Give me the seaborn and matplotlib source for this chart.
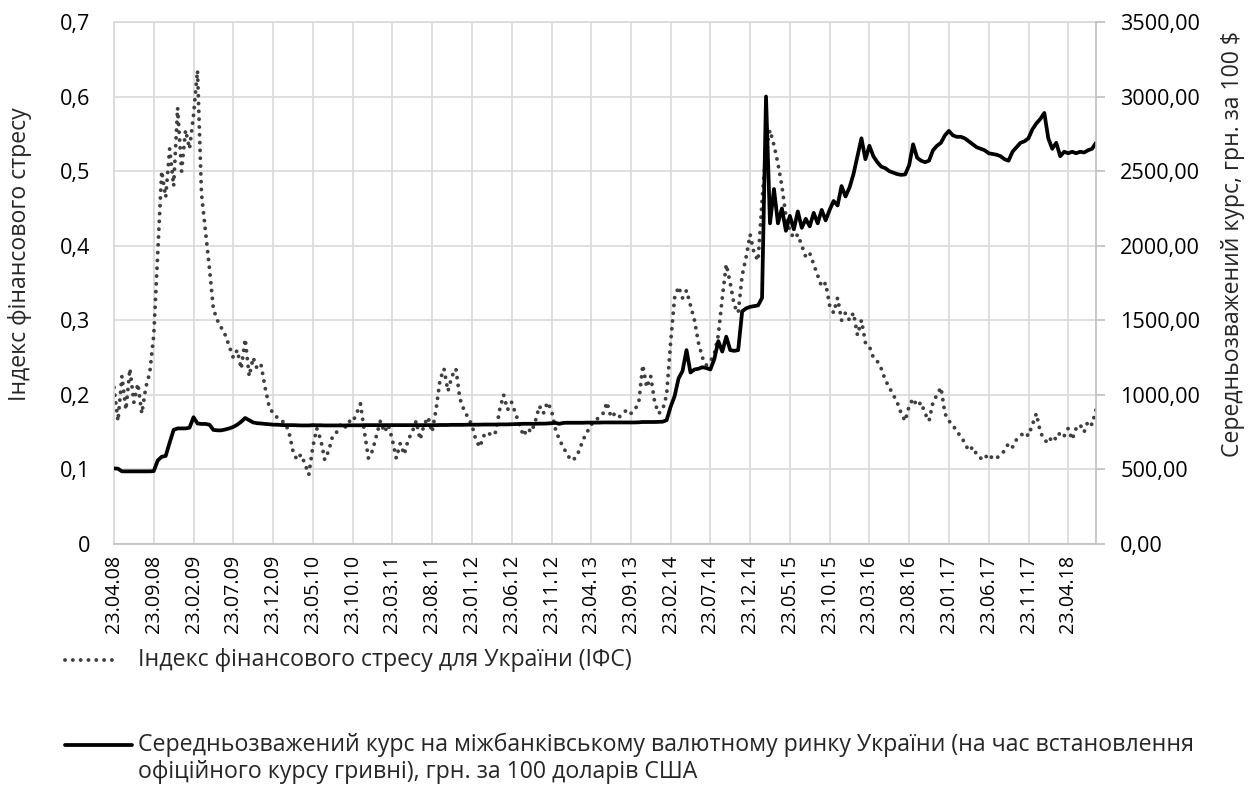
import numpy as np
import pandas as pd
import matplotlib
matplotlib.use("Agg")
import matplotlib.pyplot as plt
from matplotlib.lines import Line2D
from matplotlib.ticker import FuncFormatter, MultipleLocator
import matplotlib.dates as mdates
import seaborn as sns

sns.set_style("white")
plt.rcParams["font.family"] = ["Open Sans", "DejaVu Sans"]

# ---- data (half-monthly readings, 23.04.2008 .. early 08.2018) ----
start_date = "2008-04-23"
end_date = "2018-08-07"

ifs = [
    0.21, 0.165, 0.225, 0.18, 0.235, 0.19, 0.215, 0.175, 0.21, 0.23,
    0.28, 0.39, 0.50, 0.465, 0.53, 0.48, 0.585, 0.50, 0.555, 0.53,
    0.575, 0.635, 0.47, 0.42, 0.37, 0.315, 0.30, 0.29, 0.28, 0.265,
    0.25, 0.26, 0.235, 0.275, 0.225, 0.25, 0.235, 0.24, 0.21, 0.185,
    0.175, 0.17, 0.165, 0.163, 0.15, 0.125, 0.113, 0.12, 0.108, 0.093,
    0.13, 0.155, 0.14, 0.113, 0.125, 0.145, 0.15, 0.16, 0.155, 0.165,
    0.163, 0.175, 0.188, 0.15, 0.115, 0.125, 0.145, 0.165, 0.15, 0.16,
    0.14, 0.115, 0.135, 0.12, 0.14, 0.15, 0.165, 0.14, 0.16, 0.17,
    0.15, 0.18, 0.22, 0.235, 0.205, 0.225, 0.235, 0.195, 0.18, 0.17,
    0.16, 0.14, 0.13, 0.145, 0.15, 0.145, 0.15, 0.18, 0.20, 0.18,
    0.19, 0.175, 0.16, 0.145, 0.155, 0.15, 0.165, 0.185, 0.175, 0.19,
    0.18, 0.155, 0.14, 0.13, 0.12, 0.112, 0.115, 0.125, 0.14, 0.15,
    0.16, 0.165, 0.17, 0.175, 0.19, 0.17, 0.175, 0.17, 0.175, 0.18,
    0.175, 0.18, 0.19, 0.24, 0.21, 0.225, 0.19, 0.175, 0.18, 0.20,
    0.27, 0.33, 0.345, 0.33, 0.34, 0.32, 0.30, 0.27, 0.25, 0.24,
    0.245, 0.255, 0.28, 0.33, 0.375, 0.35, 0.32, 0.31, 0.36, 0.385,
    0.415, 0.39, 0.38, 0.46, 0.53, 0.555, 0.535, 0.51, 0.48, 0.44,
    0.42, 0.41, 0.415, 0.40, 0.385, 0.39, 0.375, 0.36, 0.345, 0.35,
    0.32, 0.31, 0.33, 0.30, 0.31, 0.30, 0.31, 0.28, 0.30, 0.27,
    0.265, 0.25, 0.245, 0.235, 0.22, 0.21, 0.20, 0.19, 0.175, 0.165,
    0.185, 0.195, 0.185, 0.19, 0.175, 0.165, 0.19, 0.20, 0.21, 0.175,
    0.165, 0.16, 0.15, 0.145, 0.135, 0.125, 0.13, 0.12, 0.115, 0.12,
    0.113, 0.118, 0.115, 0.12, 0.125, 0.135, 0.13, 0.14, 0.145, 0.15,
    0.145, 0.16, 0.175, 0.15, 0.14, 0.135, 0.145, 0.14, 0.15, 0.145,
    0.155, 0.14, 0.155, 0.16, 0.15, 0.165, 0.16, 0.18,
]

rate = [
    507, 505, 487, 487, 487, 487, 487, 487, 487, 487,
    489, 560, 585, 590, 680, 765, 775, 775, 775, 780,
    850, 808, 805, 805, 800, 765, 762, 762, 768, 775,
    785, 800, 820, 845, 830, 815, 810, 808, 805, 803,
    800, 800, 798, 797, 797, 797, 796, 795, 795, 795,
    797, 796, 796, 795, 795, 795, 795, 795, 795, 796,
    796, 796, 796, 797, 797, 797, 797, 797, 797, 797,
    797, 797, 797, 797, 797, 797, 797, 797, 797, 797,
    797, 797, 798, 798, 798, 799, 799, 799, 799, 800,
    800, 800, 800, 801, 801, 801, 801, 802, 802, 802,
    803, 804, 805, 806, 806, 806, 806, 807, 807, 808,
    810, 812, 806, 812, 813, 813, 813, 813, 813, 814,
    814, 814, 814, 815, 815, 815, 815, 815, 815, 815,
    815, 815, 816, 818, 818, 818, 818, 819, 820, 830,
    920, 990, 1110, 1160, 1300, 1150, 1170, 1175, 1185, 1180,
    1170, 1240, 1360, 1290, 1390, 1300, 1295, 1300, 1560, 1580,
    1590, 1595, 1600, 1650, 3000, 2150, 2380, 2150, 2250, 2100,
    2200, 2110, 2230, 2120, 2180, 2130, 2220, 2150, 2240, 2170,
    2240, 2300, 2270, 2400, 2330, 2390, 2480, 2600, 2720, 2580,
    2670, 2600, 2560, 2530, 2520, 2500, 2490, 2480, 2475, 2478,
    2540, 2680, 2590, 2570, 2560, 2570, 2640, 2670, 2690, 2740,
    2770, 2740, 2730, 2730, 2720, 2700, 2680, 2660, 2650, 2640,
    2620, 2615, 2610, 2600, 2580, 2570, 2630, 2660, 2690, 2700,
    2720, 2780, 2820, 2850, 2890, 2720, 2650, 2690, 2600, 2630,
    2620, 2630, 2620, 2630, 2625, 2640, 2650, 2690,
]

label_ifs = "Індекс фінансового стресу для України (ІФС)"
label_rate_1 = "Середньозважений курс на міжбанківському валютному ринку України (на час встановлення"
label_rate_2 = "офіційного курсу гривні), грн. за 100 доларів США"
ylabel_left = "Індекс фінансового стресу"
ylabel_right = "Середньозважений курс, грн. за 100 $"

dates = pd.date_range(start_date, end_date, periods=len(ifs))
tick_dates = pd.date_range("2008-04-23", "2018-04-23", freq=pd.DateOffset(months=5))
df = pd.DataFrame({"date": dates, "ifs": ifs, "rate": rate})

# ---- figure ----
W, H = 1255, 810
fig = plt.figure(figsize=(W / 100, H / 100), dpi=100)
L, R, T, B = 114, 1096, 22, 544
ax = fig.add_axes([L / W, 1 - B / H, (R - L) / W, (B - T) / H])

dot_color = "#3f3f3f"
dot_lw = 2.8
dot_ls = (0, (0.01, 2.0))
sns.lineplot(data=df, x="date", y="ifs", ax=ax, color=dot_color, lw=dot_lw,
             linestyle=dot_ls, dash_capstyle="round", estimator=None, sort=False)
ax2 = ax.twinx()
sns.lineplot(data=df, x="date", y="rate", ax=ax2, color="black", lw=2.7,
             estimator=None, sort=False, solid_joinstyle="round")

grid_c = "#d9d9d9"
axis_c = "#bfbfbf"
fs_y = 15.6
fs_x = 14.2
fs_title = 16.6
fs_leg = 16

ax.set_xlim(pd.Timestamp(start_date), pd.Timestamp(end_date))
ax.set_ylim(0, 0.7)
ax2.set_ylim(0, 3500)
ax.yaxis.set_major_locator(MultipleLocator(0.1))
ax2.yaxis.set_major_locator(MultipleLocator(500))
ax.yaxis.set_major_formatter(FuncFormatter(
    lambda v, _: "0" if abs(v) < 1e-9 else f"{v:.1f}".replace(".", ",")))
ax2.yaxis.set_major_formatter(FuncFormatter(lambda v, _: f"{v:.2f}".replace(".", ",")))
ax.set_xticks(tick_dates)
ax.xaxis.set_major_formatter(mdates.DateFormatter("%d.%m.%y"))

ax.grid(True, color=grid_c, lw=1.2)
ax.set_axisbelow(True)
ax2.grid(False)
ax.set_xlabel("")
ax.set_ylabel("")
ax2.set_ylabel("")

for s in ["left", "top"]:
    ax.spines[s].set_color(grid_c)
    ax.spines[s].set_linewidth(1.2)
ax.spines["right"].set_visible(False)
ax.spines["bottom"].set_color(axis_c)
ax.spines["bottom"].set_linewidth(1.2)
for s in ["left", "top", "bottom"]:
    ax2.spines[s].set_visible(False)
ax2.spines["right"].set_color(axis_c)
ax2.spines["right"].set_linewidth(1.2)

ax.tick_params(axis="y", length=0, pad=17, labelsize=fs_y, labelcolor="black")
ax.tick_params(axis="x", length=0, pad=8, labelsize=fs_x, labelrotation=90, labelcolor="black")
ax2.tick_params(axis="y", length=6.5, width=1.2, color=axis_c, pad=11, labelsize=fs_y,
                labelcolor="black")

fig.text(20 / W, 1 - 254 / H, ylabel_left, rotation=90, ha="center", va="center", fontsize=fs_title)
fig.text(1233 / W, 1 - 244 / H, ylabel_right, rotation=90, ha="center", va="center", fontsize=fs_title)

# ---- legend ----
tx = 138
fig.add_artist(Line2D([65 / W, 116 / W], [1 - 660 / H] * 2, transform=fig.transFigure,
                      color=dot_color, lw=dot_lw, linestyle=dot_ls, dash_capstyle="round"))
t1 = fig.text(tx / W, 1 - 660 / H, label_ifs, ha="left", va="center", fontsize=fs_leg)
fig.add_artist(Line2D([65 / W, 132 / W], [1 - 745 / H] * 2, transform=fig.transFigure,
                      color="black", lw=2.7))
t2 = fig.text(tx / W, 1 - 745 / H, label_rate_1, ha="left", va="center", fontsize=fs_leg)
t3 = fig.text(tx / W, 1 - 772 / H, label_rate_2, ha="left", va="center", fontsize=fs_leg)

# fit legend font so the long line spans the same width as in the reference
fig.canvas.draw()
w2 = t2.get_window_extent().width
new_fs = fs_leg * (1192 - tx) / w2
for t in (t1, t2, t3):
    t.set_fontsize(new_fs)

fig.savefig("out.png", dpi=100)
